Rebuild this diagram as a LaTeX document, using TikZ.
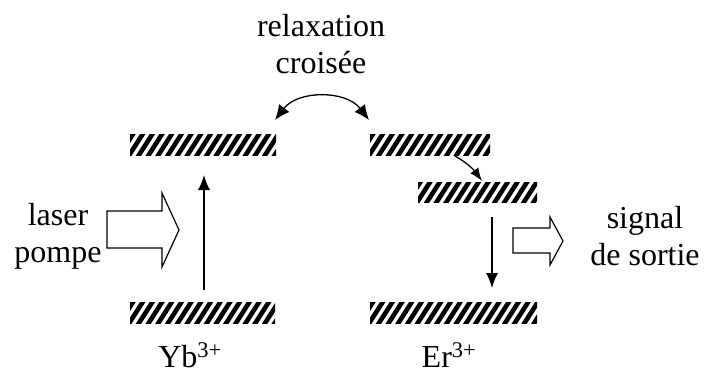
\documentclass[tikz,border=0pt]{standalone}
\usepackage{fontspec}
\setmainfont{Liberation Serif}
\usetikzlibrary{arrows.meta}
\begin{document}
\begin{tikzpicture}[x=1pt,y=-1pt,
  every node/.style={font=\fontsize{32}{37}\selectfont, inner sep=0pt, outer sep=0pt},
  bar/.style={rectangle, minimum height=21pt, path picture={
      \foreach \i in {-3,...,20}
        \draw[line width=4.6pt] ([xshift=\i*9.7pt-2pt,yshift=-2pt]path picture bounding box.south west) -- ++(16pt,25pt);
    }},
  thin arrow/.style={line width=1.3pt, -{Latex[length=15pt,width=12pt]}},
  hollow/.style={line width=1.2pt, line join=miter}
]
\useasboundingbox (0,0) rectangle (705,373);

% energy levels
\node[bar, minimum width=146pt] (ybup) at (203,144.5) {};
\node[bar, minimum width=145pt] (ybdown) at (202.5,312.5) {};
\node[bar, minimum width=120pt] (erup) at (430,144.5) {};
\node[bar, minimum width=119pt, minimum height=20pt] (ermid) at (477.5,192) {};
\node[bar, minimum width=167pt] (erdown) at (453.5,312.5) {};

% labels (base = baseline of last line)
\node[align=center, anchor=base] (relax) at (321,73) {relaxation\\croisée};
\node[align=center, anchor=base] (laser) at (58,262) {laser\\pompe};
\node[align=center, anchor=base] (signal) at (645,265) {signal\\de sortie};
\node[anchor=base] (yb) at (190,367) {Yb\textsuperscript{3+}};
\node[anchor=base] (er) at (449,367) {Er\textsuperscript{3+}};

% transitions
\coordinate (ybs) at (204,290);
\coordinate (ybe) at (204,175);
\draw[thin arrow] (ybs) -- (ybe);

\coordinate (ers) at (492,217);
\coordinate (ere) at (492,288);
\draw[thin arrow] (ers) -- (ere);

\coordinate (nrs) at (455,156);
\coordinate (nre) at (482,181);
\draw[line width=1.3pt, -{Latex[length=13pt,width=10pt]}] (nrs) .. controls (466,162) and (474,170) .. (nre);

\coordinate (crl) at (275,120);
\coordinate (crr) at (369,120);
\draw[line width=1.3pt, {Latex[length=15pt,width=13pt]}-{Latex[length=15pt,width=13pt]}] (crl) .. controls (298,90) and (346,90) .. (crr);

% hollow arrows
\draw[hollow] (107,211) -- (162,211) -- (162,193) -- (179,230) -- (162,267) -- (162,248) -- (107,248) -- cycle;
\draw[hollow] (513,228) -- (550,228) -- (550,217) -- (563,241) -- (550,265) -- (550,253) -- (513,253) -- cycle;
\end{tikzpicture}
\end{document}
